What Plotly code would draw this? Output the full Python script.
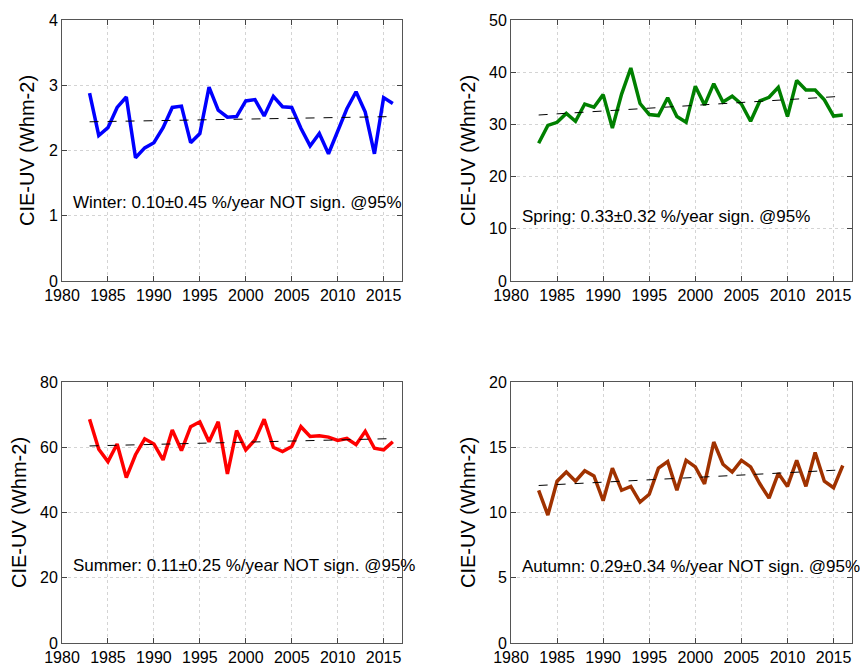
import plotly.graph_objects as go

# CIE-UV seasonal means, 1983-2016
years = list(range(1983, 2017))

winter = [2.88, 2.23, 2.35, 2.66, 2.82, 1.89, 2.04, 2.12, 2.35, 2.66,
          2.68, 2.12, 2.26, 2.97, 2.62, 2.51, 2.52, 2.76, 2.78, 2.53,
          2.83, 2.67, 2.66, 2.34, 2.07, 2.26, 1.95, 2.29, 2.64, 2.90,
          2.59, 1.95, 2.81, 2.72]
spring = [26.4, 29.8, 30.4, 32.1, 30.6, 33.9, 33.3, 35.7, 29.3, 35.8,
          40.8, 34.0, 31.9, 31.7, 35.1, 31.5, 30.4, 37.3, 33.7, 37.8,
          34.3, 35.4, 33.9, 30.6, 34.5, 35.2, 37.1, 31.5, 38.4, 36.6,
          36.6, 34.7, 31.6, 31.8]
summer = [68.6, 59.4, 55.6, 61.0, 50.7, 57.7, 62.6, 61.0, 56.1, 65.3,
          59.0, 66.3, 67.8, 61.7, 67.8, 51.8, 65.1, 59.2, 62.2, 68.6,
          60.0, 58.7, 60.2, 66.3, 63.3, 63.5, 63.1, 62.1, 62.7, 60.8,
          64.9, 59.7, 59.2, 61.7]
autumn = [11.7, 9.8, 12.4, 13.1, 12.4, 13.2, 12.8, 10.9, 13.4, 11.7,
          12.0, 10.8, 11.4, 13.4, 13.9, 11.7, 14.0, 13.5, 12.2, 15.4,
          13.7, 13.1, 14.0, 13.5, 12.2, 11.1, 13.0, 12.0, 14.0, 12.0,
          14.6, 12.4, 11.9, 13.6]

# linear trend end points (1983, 2016)
trend_years = [1983, 2016]
winter_trend = [2.44, 2.52]
spring_trend = [31.8, 35.4]
summer_trend = [60.4, 62.65]
autumn_trend = [12.07, 13.27]

labels = ["Winter: 0.10\u00b10.45 %/year NOT sign. @95%",
          "Spring: 0.33\u00b10.32 %/year sign. @95%",
          "Summer: 0.11\u00b10.25 %/year NOT sign. @95%",
          "Autumn: 0.29\u00b10.34 %/year NOT sign. @95%"]
ymax = [4, 50, 80, 20]
ydtick = [1, 10, 20, 5]
label_y = [1.21, 12.4, 23.8, 5.87]
colors = ["rgb(0,0,255)", "rgb(0,128,0)", "rgb(255,0,0)", "rgb(160,50,0)"]

series = [winter, spring, summer, autumn]
trends = [winter_trend, spring_trend, summer_trend, autumn_trend]

# page body adds an 8px margin, so the figure is placed 8px in
W, H = 860, 658
OFF = 8
xdom = [[(62 - OFF) / W, (402 - OFF) / W], [(511 - OFF) / W, (852 - OFF) / W]]
ydom = [[1 - (281 - OFF) / H, 1 - (20 - OFF) / H],
        [1 - (643 - OFF) / H, 1 - (382 - OFF) / H]]

FONT = "Liberation Sans, Arial, sans-serif"

fig = go.Figure()
annotations = []
for i in range(4):
    n = "" if i == 0 else str(i + 1)
    xa, ya = "x" + n, "y" + n
    fig.add_trace(go.Scatter(x=years, y=series[i], mode="lines",
                             line=dict(color=colors[i], width=3.5),
                             xaxis=xa, yaxis=ya, showlegend=False))
    fig.add_trace(go.Scatter(x=trend_years, y=trends[i], mode="lines",
                             line=dict(color="black", width=1, dash="dash"),
                             xaxis=xa, yaxis=ya, showlegend=False))
    row, col = divmod(i, 2)
    axstyle = dict(showline=True, linecolor="#555", linewidth=1, mirror="ticks",
                   ticks="inside", ticklen=5, tickcolor="#444", automargin=False,
                   showgrid=True, gridcolor="#d4d4d4", griddash="dot", gridwidth=1,
                   zeroline=False, tickfont=dict(family=FONT, size=16, color="black"))
    fig.update_layout(**{
        "xaxis" + n: dict(domain=xdom[col], range=[1980, 2017],
                          tickvals=list(range(1980, 2016, 5)),
                          anchor=ya, **axstyle),
        "yaxis" + n: dict(domain=ydom[row], range=[0, ymax[i]], dtick=ydtick[i],
                          anchor=xa,
                          title=dict(text="CIE-UV (Whm-2)", standoff=8,
                                     font=dict(family=FONT, size=20, color="black")),
                          **axstyle),
    })
    annotations.append(dict(x=1981, y=label_y[i], xref=xa, yref=ya,
                            text=labels[i], showarrow=False,
                            xanchor="left", yanchor="middle",
                            font=dict(family=FONT, size=17, color="black")))

fig.update_layout(width=W, height=H, margin=dict(l=0, r=0, t=0, b=0),
                  paper_bgcolor="white", plot_bgcolor="white",
                  annotations=annotations, showlegend=False)

fig.write_html("out.html")
